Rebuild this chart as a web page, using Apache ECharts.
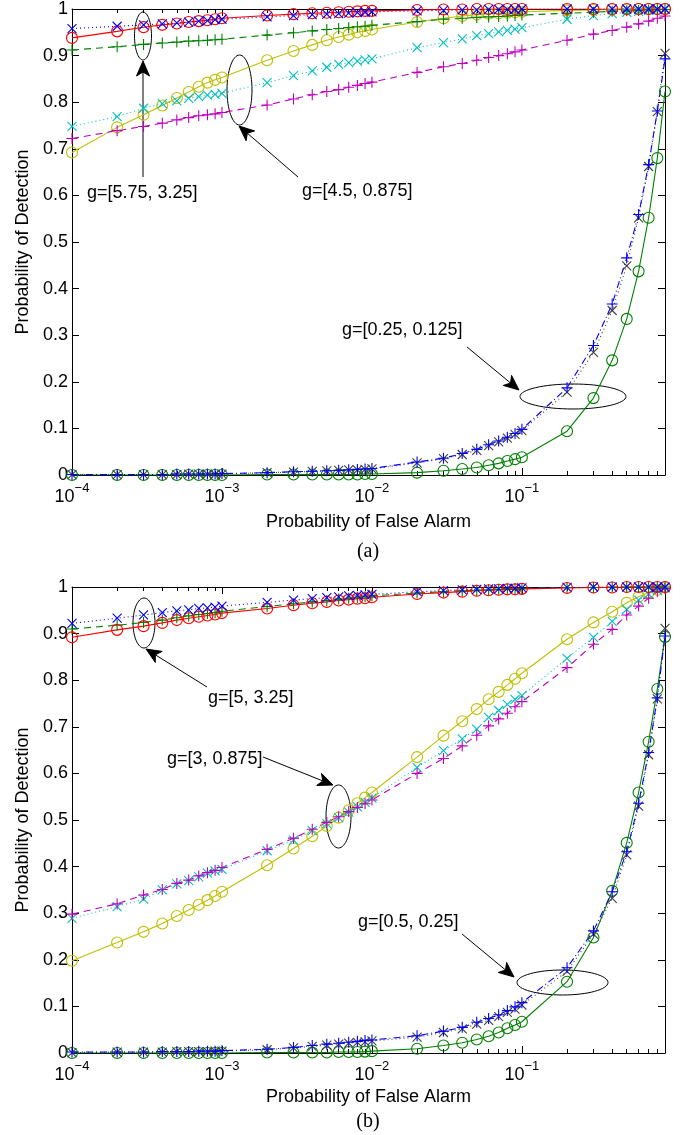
<!DOCTYPE html>
<html>
<head>
<meta charset="utf-8">
<script src="https://cdn.jsdelivr.net/npm/echarts@6.0.0/dist/echarts.min.js"></script>
<style>
  html, body { margin: 0; padding: 0; background: #fff; }
  #chart { width: 690px; height: 1135px; }
</style>
</head>
<body>
<div id="chart"></div>
<script>
// false alarm probabilities (x), shared by every curve
const falseAlarm = [
  0.0001, 0.0002, 0.0003, 0.0004, 0.0005, 0.0006, 0.0007, 0.0008, 0.0009,
  0.001, 0.002, 0.003, 0.004, 0.005, 0.006, 0.007, 0.008, 0.009,
  0.01, 0.02, 0.03, 0.04, 0.05, 0.06, 0.07, 0.08, 0.09,
  0.1, 0.2, 0.3, 0.4, 0.5, 0.6, 0.7, 0.8, 0.9,
];

// x tick positions / labels
const decadeTicks = [0.0001, 0.001, 0.01, 0.1];
const decadeExponents = [-4, -3, -2, -1];
const minorTicks = [
  0.0002, 0.0003, 0.0004, 0.0005, 0.0006, 0.0007, 0.0008, 0.0009,
  0.002, 0.003, 0.004, 0.005, 0.006, 0.007, 0.008, 0.009,
  0.02, 0.03, 0.04, 0.05, 0.06, 0.07, 0.08, 0.09,
  0.2, 0.3, 0.4, 0.5, 0.6, 0.7, 0.8, 0.9,
];

// ---- panel (a) ----
// g=[5.75, 3.25]
const aRedCircle = [
  0.938, 0.952, 0.961, 0.966, 0.969, 0.972, 0.974, 0.976, 0.978,
  0.980, 0.986, 0.989, 0.991, 0.992, 0.993, 0.994, 0.995, 0.996,
  0.996, 0.998, 0.999, 0.999, 1, 1, 1, 1, 1,
  1, 1, 1, 1, 1, 1, 1, 1, 1,
];
const aBlueCross = [
  0.958, 0.963, 0.966, 0.968, 0.970, 0.972, 0.974, 0.975, 0.977,
  0.978, 0.983, 0.986, 0.988, 0.989, 0.990, 0.991, 0.992, 0.993,
  0.994, 0.996, 0.997, 0.998, 0.998, 0.999, 0.999, 0.999, 0.999,
  1, 1, 1, 1, 1, 1, 1, 1, 1,
];
const aGreenPlus = [
  0.912, 0.919, 0.924, 0.927, 0.929, 0.931, 0.932, 0.933, 0.934,
  0.935, 0.944, 0.949, 0.953, 0.956, 0.958, 0.960, 0.962, 0.963,
  0.965, 0.973, 0.978, 0.980, 0.982, 0.983, 0.984, 0.985, 0.986,
  0.987, 0.991, 0.993, 0.995, 0.996, 0.997, 0.998, 0.999, 0.999,
];
// g=[4.5, 0.875]
const aYellowCircle = [
  0.692, 0.746, 0.773, 0.793, 0.809, 0.822, 0.833, 0.842, 0.848,
  0.853, 0.890, 0.910, 0.923, 0.933, 0.940, 0.945, 0.950, 0.953,
  0.956, 0.972, 0.980, 0.985, 0.988, 0.990, 0.991, 0.992, 0.993,
  0.994, 0.997, 0.998, 0.999, 0.999, 1, 1, 1, 1,
];
const aCyanCross = [
  0.748, 0.769, 0.787, 0.797, 0.803, 0.808, 0.812, 0.815, 0.817,
  0.819, 0.842, 0.857, 0.867, 0.875, 0.881, 0.885, 0.888, 0.891,
  0.893, 0.917, 0.928, 0.936, 0.943, 0.947, 0.951, 0.954, 0.957,
  0.960, 0.978, 0.986, 0.990, 0.993, 0.995, 0.997, 0.998, 0.999,
];
const aMagentaPlus = [
  0.722, 0.739, 0.748, 0.755, 0.762, 0.767, 0.771, 0.773, 0.775,
  0.778, 0.794, 0.807, 0.816, 0.823, 0.827, 0.832, 0.836, 0.840,
  0.843, 0.864, 0.876, 0.883, 0.890, 0.896, 0.900, 0.904, 0.908,
  0.912, 0.933, 0.946, 0.954, 0.961, 0.968, 0.974, 0.980, 0.985,
];
// g=[0.25, 0.125]
const aGreenCircle = [
  0, 0, 0, 0, 0, 0, 0, 0, 0,
  0, 0.001, 0.001, 0.001, 0.001, 0.001, 0.001, 0.001, 0.002,
  0.002, 0.005, 0.009, 0.013, 0.016, 0.021, 0.025, 0.030, 0.034,
  0.038, 0.094, 0.165, 0.246, 0.335, 0.437, 0.552, 0.680, 0.823,
];
const aBluePlus = [
  0.001, 0.001, 0.001, 0.001, 0.002, 0.002, 0.002, 0.002, 0.002,
  0.003, 0.005, 0.007, 0.008, 0.009, 0.010, 0.011, 0.012, 0.013,
  0.014, 0.028, 0.036, 0.046, 0.055, 0.065, 0.073, 0.081, 0.089,
  0.098, 0.187, 0.278, 0.367, 0.466, 0.559, 0.666, 0.781, 0.893,
];
const aBlackCross = [
  0.001, 0.001, 0.001, 0.001, 0.001, 0.002, 0.002, 0.002, 0.002,
  0.002, 0.005, 0.006, 0.008, 0.009, 0.010, 0.011, 0.011, 0.012,
  0.013, 0.026, 0.035, 0.044, 0.053, 0.063, 0.071, 0.079, 0.087,
  0.095, 0.178, 0.263, 0.353, 0.449, 0.552, 0.662, 0.780, 0.905,
];

// ---- panel (b) ----
// g=[5, 3.25]
const bRedCircle = [
  0.892, 0.908, 0.916, 0.923, 0.929, 0.933, 0.936, 0.939, 0.941,
  0.944, 0.954, 0.961, 0.965, 0.968, 0.971, 0.973, 0.975, 0.976,
  0.978, 0.985, 0.988, 0.990, 0.992, 0.993, 0.994, 0.995, 0.995,
  0.996, 0.998, 0.999, 0.999, 1, 1, 1, 1, 1,
];
const bBlueCross = [
  0.922, 0.933, 0.940, 0.945, 0.949, 0.951, 0.954, 0.955, 0.957,
  0.959, 0.967, 0.972, 0.975, 0.977, 0.979, 0.981, 0.982, 0.983,
  0.984, 0.990, 0.992, 0.994, 0.995, 0.996, 0.996, 0.997, 0.997,
  0.998, 0.999, 1, 1, 1, 1, 1, 1, 1,
];
const bGreenPlus = [
  0.910, 0.918, 0.924, 0.929, 0.934, 0.938, 0.941, 0.943, 0.945,
  0.948, 0.958, 0.964, 0.968, 0.971, 0.974, 0.976, 0.978, 0.979,
  0.981, 0.987, 0.990, 0.992, 0.993, 0.994, 0.995, 0.996, 0.996,
  0.997, 0.999, 0.999, 1, 1, 1, 1, 1, 1,
];
// g=[3, 0.875]
const bYellowCircle = [
  0.198, 0.237, 0.260, 0.278, 0.294, 0.307, 0.318, 0.328, 0.337,
  0.346, 0.403, 0.439, 0.465, 0.487, 0.505, 0.521, 0.536, 0.548,
  0.559, 0.635, 0.681, 0.712, 0.738, 0.759, 0.775, 0.790, 0.803,
  0.815, 0.888, 0.924, 0.947, 0.966, 0.979, 0.988, 0.994, 0.999,
];
const bCyanCross = [
  0.289, 0.314, 0.330, 0.350, 0.363, 0.370, 0.378, 0.386, 0.391,
  0.394, 0.434, 0.457, 0.477, 0.492, 0.505, 0.517, 0.528, 0.538,
  0.547, 0.613, 0.649, 0.674, 0.695, 0.720, 0.735, 0.748, 0.759,
  0.767, 0.847, 0.892, 0.926, 0.952, 0.972, 0.985, 0.993, 0.998,
];
const bMagentaPlus = [
  0.298, 0.320, 0.339, 0.351, 0.364, 0.371, 0.380, 0.387, 0.392,
  0.398, 0.437, 0.461, 0.480, 0.495, 0.507, 0.518, 0.527, 0.535,
  0.543, 0.600, 0.632, 0.659, 0.682, 0.702, 0.717, 0.729, 0.743,
  0.754, 0.827, 0.877, 0.909, 0.940, 0.959, 0.976, 0.990, 0.997,
];
// g=[0.5, 0.25]
const bGreenCircle = [
  0, 0, 0, 0, 0, 0, 0, 0, 0,
  0, 0.001, 0.001, 0.001, 0.001, 0.002, 0.002, 0.002, 0.003,
  0.004, 0.009, 0.016, 0.022, 0.029, 0.036, 0.044, 0.053, 0.060,
  0.067, 0.153, 0.248, 0.348, 0.451, 0.559, 0.668, 0.781, 0.893,
];
const bBluePlus = [
  0.002, 0.002, 0.002, 0.003, 0.003, 0.003, 0.004, 0.004, 0.004,
  0.005, 0.008, 0.012, 0.016, 0.019, 0.021, 0.023, 0.025, 0.027,
  0.028, 0.037, 0.047, 0.055, 0.066, 0.074, 0.082, 0.091, 0.099,
  0.108, 0.183, 0.262, 0.346, 0.432, 0.536, 0.645, 0.762, 0.895,
];
const bBlackCross = [
  0.001, 0.002, 0.002, 0.002, 0.003, 0.003, 0.003, 0.003, 0.004,
  0.004, 0.007, 0.011, 0.014, 0.017, 0.019, 0.021, 0.023, 0.024,
  0.026, 0.034, 0.044, 0.052, 0.062, 0.070, 0.078, 0.087, 0.094,
  0.103, 0.175, 0.255, 0.332, 0.425, 0.530, 0.640, 0.760, 0.911,
];

const FONT = '"Liberation Sans", Arial, sans-serif';
const AXIS_COLOR = '#000';

const SYMBOLS = {
  circle: { symbol: 'circle', size: 11 },
  cross: { symbol: 'path://M0,0L10,10M10,0L0,10', size: 9 },
  plus: { symbol: 'path://M5,0L5,10M0,5L10,5', size: 11 },
};
const DASH = {
  solid: 'solid',
  dotted: [1, 3],
  dashed: [7, 5],
  dashdot: [7, 3, 1, 3],
};

function makeSeries(values, color, marker, dash, axisOffset) {
  const m = SYMBOLS[marker];
  return {
    type: 'line',
    xAxisIndex: axisOffset.x,
    yAxisIndex: axisOffset.y,
    data: values.map((v, i) => [falseAlarm[i], v]),
    symbol: m.symbol,
    symbolSize: m.size,
    showSymbol: true,
    showAllSymbol: true,
    itemStyle: {
      color: 'rgba(0,0,0,0)',
      borderColor: color,
      borderWidth: 1.1,
    },
    lineStyle: {
      color: color,
      width: 1.1,
      type: dash,
    },
    emphasis: { disabled: true },
    silent: true,
  };
}

function logAxes(gridIndex, name, nameGap) {
  const base = {
    type: 'log',
    logBase: 10,
    min: 0.0001,
    max: 0.9,
    gridIndex: gridIndex,
    splitLine: { show: false },
    axisLabel: { show: false },
    axisLine: { show: false, onZero: false },
    axisTick: { show: false },
  };
  const line = { show: true, onZero: false, lineStyle: { color: AXIS_COLOR, width: 1 } };
  const major = { show: true, inside: true, length: 7, customValues: decadeTicks, lineStyle: { color: AXIS_COLOR } };
  const minor = { show: true, inside: true, length: 4, customValues: minorTicks, lineStyle: { color: AXIS_COLOR } };
  return [
    {
      ...base,
      position: 'bottom',
      axisLine: line,
      axisTick: major,
      axisLabel: {
        show: true,
        customValues: decadeTicks,
        margin: 7,
        formatter(value) {
          const idx = decadeTicks.findIndex((t) => Math.abs(t - value) / t < 1e-6);
          const exp = decadeExponents[idx];
          return `{b|10}{s|\u2212${-exp}}`;
        },
        rich: {
          b: { fontSize: 18, fontFamily: FONT, color: '#000', padding: [6, 0, 0, 0], verticalAlign: 'bottom' },
          s: { fontSize: 13, fontFamily: FONT, color: '#000', verticalAlign: 'top' },
        },
      },
      name: name,
      nameLocation: 'middle',
      nameGap: nameGap,
      nameTextStyle: { fontSize: 18, fontFamily: FONT, color: '#000' },
    },
    { ...base, position: 'bottom', axisTick: minor },
    { ...base, position: 'top', axisLine: line, axisTick: major },
    { ...base, position: 'top', axisTick: minor },
  ];
}

function valueAxes(gridIndex) {
  const base = {
    type: 'value',
    min: 0,
    max: 1,
    interval: 0.1,
    gridIndex: gridIndex,
    splitLine: { show: false },
    axisLine: { show: true, onZero: false, lineStyle: { color: AXIS_COLOR, width: 1 } },
    axisTick: { show: true, inside: true, length: 7, lineStyle: { color: AXIS_COLOR } },
  };
  return [
    {
      ...base,
      position: 'left',
      axisLabel: { margin: 4, fontSize: 18, fontFamily: FONT, color: '#000' },
      name: 'Probability of Detection',
      nameLocation: 'middle',
      nameRotate: 90,
      nameGap: 40,
      nameTextStyle: { fontSize: 18, fontFamily: FONT, color: '#000' },
    },
    { ...base, position: 'right', axisLabel: { show: false } },
  ];
}

function panelSeries(groups, axisOffset) {
  return groups.map((g) => makeSeries(g[0], g[1], g[2], g[3], axisOffset));
}

const COLORS = {
  red: '#ff0000',
  blue: '#0000ff',
  green: '#008000',
  yellow: '#bfbf00',
  cyan: '#00bfbf',
  magenta: '#bf00bf',
  black: '#404040',
};

const seriesA = panelSeries([
  [aYellowCircle, COLORS.yellow, 'circle', DASH.solid],
  [aCyanCross, COLORS.cyan, 'cross', DASH.dotted],
  [aMagentaPlus, COLORS.magenta, 'plus', DASH.dashed],
  [aGreenPlus, COLORS.green, 'plus', DASH.dashed],
  [aRedCircle, COLORS.red, 'circle', DASH.solid],
  [aBlueCross, COLORS.blue, 'cross', DASH.dotted],
  [aGreenCircle, COLORS.green, 'circle', DASH.solid],
  [aBlackCross, COLORS.black, 'cross', DASH.dotted],
  [aBluePlus, COLORS.blue, 'plus', DASH.dashdot],
], { x: 0, y: 0 });

const seriesB = panelSeries([
  [bYellowCircle, COLORS.yellow, 'circle', DASH.solid],
  [bCyanCross, COLORS.cyan, 'cross', DASH.dotted],
  [bMagentaPlus, COLORS.magenta, 'plus', DASH.dashed],
  [bGreenPlus, COLORS.green, 'plus', DASH.dashed],
  [bRedCircle, COLORS.red, 'circle', DASH.solid],
  [bBlueCross, COLORS.blue, 'cross', DASH.dotted],
  [bGreenCircle, COLORS.green, 'circle', DASH.solid],
  [bBlackCross, COLORS.black, 'cross', DASH.dotted],
  [bBluePlus, COLORS.blue, 'plus', DASH.dashdot],
], { x: 4, y: 2 });

// annotation helpers (ellipse + arrow + label), pixel placed
function ellipse(cx, cy, rx, ry) {
  return {
    type: 'ellipse',
    shape: { cx, cy, rx, ry },
    style: { fill: 'none', stroke: '#000', lineWidth: 1 },
    silent: true,
  };
}

function arrow(x1, y1, x2, y2) {
  const len = Math.hypot(x2 - x1, y2 - y1);
  const dx = (x2 - x1) / len;
  const dy = (y2 - y1) / len;
  const nx = -dy;
  const ny = dx;
  const L = 15;
  const W = 6.5;
  const N = 4;
  const bx = x2 - L * dx;
  const by = y2 - L * dy;
  const mx = x2 - (L - N) * dx;
  const my = y2 - (L - N) * dy;
  return [
    {
      type: 'line',
      shape: { x1, y1, x2: mx, y2: my },
      style: { stroke: '#000', lineWidth: 1 },
      silent: true,
    },
    {
      type: 'polygon',
      shape: {
        points: [
          [x2, y2],
          [bx + W * nx, by + W * ny],
          [mx, my],
          [bx - W * nx, by - W * ny],
        ],
      },
      style: { fill: '#000', stroke: '#000', lineWidth: 1 },
      silent: true,
    },
  ];
}

function label(text, x, y, align, font) {
  return {
    type: 'text',
    x,
    y,
    style: {
      text,
      font: font || `18px ${FONT}`,
      fill: '#000',
      align: align || 'left',
      verticalAlign: 'middle',
    },
    silent: true,
  };
}

const graphics = [
  // panel (a)
  ellipse(143, 36, 8.5, 24),
  ...arrow(143, 177, 143, 61),
  label('g=[5.75, 3.25]', 87, 193),
  ellipse(239.5, 90, 12.5, 35),
  ...arrow(298, 177, 239, 126),
  label('g=[4.5, 0.875]', 302, 191),
  ellipse(573, 396.5, 53, 12.5),
  ...arrow(467, 347, 519, 390),
  label('g=[0.25, 0.125]', 342, 330),
  label('(a)', 368, 552, 'center', `20px "Liberation Serif", "Times New Roman", serif`),
  // panel (b)
  ellipse(144, 623, 11, 25),
  ...arrow(207, 687, 146, 649),
  label('g=[5, 3.25]', 208, 698),
  ellipse(338.5, 816.5, 12.5, 31.5),
  ...arrow(263, 757, 333, 785),
  label('g=[3, 0.875]', 167, 759),
  ellipse(562.5, 982.5, 45.5, 12.5),
  ...arrow(462, 934, 514, 977),
  label('g=[0.5, 0.25]', 358, 922),
  label('(b)', 368, 1122, 'center', `20px "Liberation Serif", "Times New Roman", serif`),
];

const chart = echarts.init(document.getElementById('chart'), null, { renderer: 'canvas' });

chart.setOption({
  animation: false,
  backgroundColor: '#fff',
  textStyle: { fontFamily: FONT },
  grid: [
    { left: 72, right: 25, top: 7, height: 468 },
    { left: 72, right: 25, top: 587, height: 466 },
  ],
  xAxis: [
    ...logAxes(0, 'Probability of False Alarm', 38),
    ...logAxes(1, 'Probability of False Alarm', 35),
  ],
  yAxis: [
    ...valueAxes(0),
    ...valueAxes(1),
  ],
  series: [...seriesA, ...seriesB],
  graphic: graphics,
});
</script>
</body>
</html>
